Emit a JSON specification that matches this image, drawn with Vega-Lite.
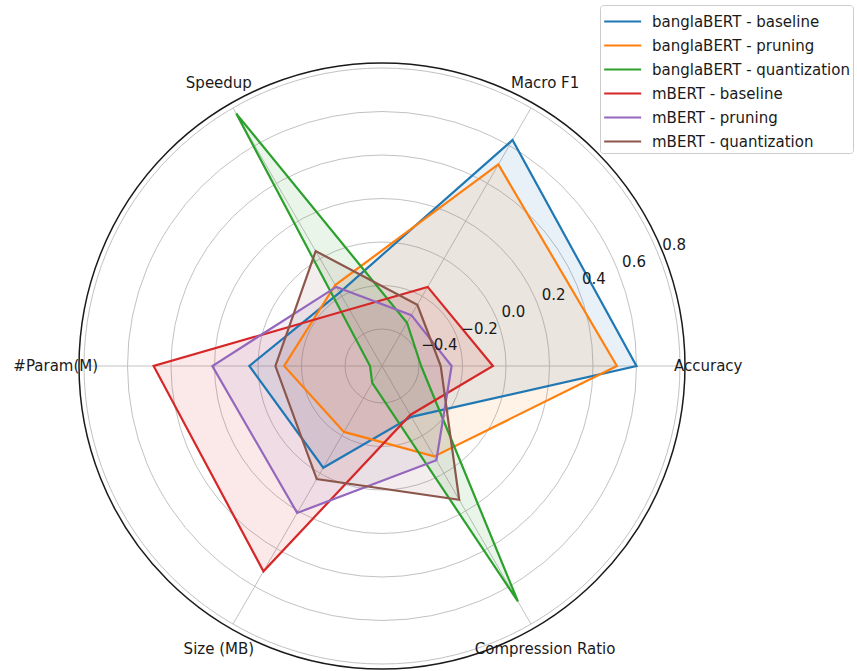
{
  "$schema": "https://vega.github.io/schema/vega-lite/v6.json",
  "width": 857,
  "height": 671,
  "autosize": {"type": "none"},
  "padding": 0,
  "background": "white",
  "config": {"view": {"stroke": null}},
  "datasets": {
    "scores": [
      {"model": "banglaBERT - baseline", "metric": "Accuracy", "value": 0.60},
      {"model": "banglaBERT - baseline", "metric": "Macro F1", "value": 0.63},
      {"model": "banglaBERT - baseline", "metric": "Speedup", "value": -0.18},
      {"model": "banglaBERT - baseline", "metric": "#Param(M)", "value": 0.04},
      {"model": "banglaBERT - baseline", "metric": "Size (MB)", "value": -0.03},
      {"model": "banglaBERT - baseline", "metric": "Compression Ratio", "value": -0.30},
      {"model": "banglaBERT - pruning", "metric": "Accuracy", "value": 0.51},
      {"model": "banglaBERT - pruning", "metric": "Macro F1", "value": 0.50},
      {"model": "banglaBERT - pruning", "metric": "Speedup", "value": -0.14},
      {"model": "banglaBERT - pruning", "metric": "#Param(M)", "value": -0.12},
      {"model": "banglaBERT - pruning", "metric": "Size (MB)", "value": -0.22},
      {"model": "banglaBERT - pruning", "metric": "Compression Ratio", "value": -0.09},
      {"model": "banglaBERT - quantization", "metric": "Accuracy", "value": -0.39},
      {"model": "banglaBERT - quantization", "metric": "Macro F1", "value": -0.34},
      {"model": "banglaBERT - quantization", "metric": "Speedup", "value": 0.77},
      {"model": "banglaBERT - quantization", "metric": "#Param(M)", "value": -0.515},
      {"model": "banglaBERT - quantization", "metric": "Size (MB)", "value": -0.48},
      {"model": "banglaBERT - quantization", "metric": "Compression Ratio", "value": 0.68},
      {"model": "mBERT - baseline", "metric": "Accuracy", "value": -0.06},
      {"model": "mBERT - baseline", "metric": "Macro F1", "value": -0.15},
      {"model": "mBERT - baseline", "metric": "Speedup", "value": -0.27},
      {"model": "mBERT - baseline", "metric": "#Param(M)", "value": 0.48},
      {"model": "mBERT - baseline", "metric": "Size (MB)", "value": 0.52},
      {"model": "mBERT - baseline", "metric": "Compression Ratio", "value": -0.31},
      {"model": "mBERT - pruning", "metric": "Accuracy", "value": -0.25},
      {"model": "mBERT - pruning", "metric": "Macro F1", "value": -0.30},
      {"model": "mBERT - pruning", "metric": "Speedup", "value": -0.15},
      {"model": "mBERT - pruning", "metric": "#Param(M)", "value": 0.21},
      {"model": "mBERT - pruning", "metric": "Size (MB)", "value": 0.21},
      {"model": "mBERT - pruning", "metric": "Compression Ratio", "value": -0.07},
      {"model": "mBERT - quantization", "metric": "Accuracy", "value": -0.30},
      {"model": "mBERT - quantization", "metric": "Macro F1", "value": -0.245},
      {"model": "mBERT - quantization", "metric": "Speedup", "value": 0.04},
      {"model": "mBERT - quantization", "metric": "#Param(M)", "value": -0.08},
      {"model": "mBERT - quantization", "metric": "Size (MB)", "value": 0.03},
      {"model": "mBERT - quantization", "metric": "Compression Ratio", "value": 0.14}
    ],
    "ticks": [
      {"v": -0.4, "label": "−0.4"},
      {"v": -0.2, "label": "−0.2"},
      {"v": 0.0, "label": "0.0"},
      {"v": 0.2, "label": "0.2"},
      {"v": 0.4, "label": "0.4"},
      {"v": 0.6, "label": "0.6"},
      {"v": 0.8, "label": "0.8"},
      {"v": 0.823, "label": ""}
    ],
    "axes": [
      {"metric": "Accuracy"},
      {"metric": "Macro F1"},
      {"metric": "Speedup"},
      {"metric": "#Param(M)"},
      {"metric": "Size (MB)"},
      {"metric": "Compression Ratio"}
    ]
  },
  "layer": [
    {
      "data": {"name": "ticks"},
      "transform": [{"filter": "datum.v <= 0.81"}, {"calculate": "datum.v + 0.57", "as": "r"}],
      "mark": {"type": "point", "shape": "circle", "filled": false, "stroke": "#c2c2c2", "strokeWidth": 1, "opacity": 1},
      "encoding": {
        "x": {"datum": 0, "type": "quantitative", "scale": {"domain": [-1.7563, 2.1839], "nice": false, "zero": false}, "axis": null},
        "y": {"datum": 0, "type": "quantitative", "scale": {"domain": [-1.4023, 1.6828], "nice": false, "zero": false}, "axis": null},
        "size": {"field": "r", "type": "quantitative", "legend": null, "scale": {"type": "pow", "exponent": 2, "domain": [0, 1.393], "range": [0, 367236], "zero": true, "nice": false}}
      }
    },
    {
      "data": {"name": "ticks"},
      "transform": [{"filter": "datum.v > 0.81"}, {"calculate": "datum.v + 0.57", "as": "r"}],
      "mark": {"type": "point", "shape": "circle", "filled": false, "stroke": "#1a1a1a", "strokeWidth": 1.5, "opacity": 1},
      "encoding": {
        "x": {"datum": 0, "type": "quantitative"},
        "y": {"datum": 0, "type": "quantitative"},
        "size": {"field": "r", "type": "quantitative", "legend": null}
      }
    },
    {
      "data": {"name": "axes"},
      "transform": [
        {"calculate": "indexof(['Accuracy','Macro F1','Speedup','#Param(M)','Size (MB)','Compression Ratio'], datum.metric)", "as": "idx"},
        {"calculate": "1.37 * cos(datum.idx * PI / 3)", "as": "ex"},
        {"calculate": "1.37 * sin(datum.idx * PI / 3)", "as": "ey"}
      ],
      "mark": {"type": "rule", "stroke": "#c2c2c2", "strokeWidth": 1},
      "encoding": {
        "x": {"field": "ex", "type": "quantitative"},
        "y": {"field": "ey", "type": "quantitative"},
        "x2": {"datum": 0},
        "y2": {"datum": 0}
      }
    },
    {
      "data": {"name": "axes"},
      "transform": [
        {"calculate": "indexof(['Accuracy','Macro F1','Speedup','#Param(M)','Size (MB)','Compression Ratio'], datum.metric)", "as": "idx"},
        {"calculate": "1.5 * cos(datum.idx * PI / 3)", "as": "lx"},
        {"calculate": "1.5 * sin(datum.idx * PI / 3)", "as": "ly"}
      ],
      "mark": {"type": "text", "font": "DejaVu Sans", "fontSize": 15, "color": "#1a1a1a", "align": "center", "baseline": "middle"},
      "encoding": {
        "x": {"field": "lx", "type": "quantitative"},
        "y": {"field": "ly", "type": "quantitative"},
        "text": {"field": "metric"}
      }
    },
    {
      "data": {"name": "scores"},
      "transform": [
        {"calculate": "indexof(['Accuracy','Macro F1','Speedup','#Param(M)','Size (MB)','Compression Ratio'], datum.metric)", "as": "idx"},
        {"calculate": "(datum.value + 0.57) * cos(datum.idx * PI / 3)", "as": "px"},
        {"calculate": "(datum.value + 0.57) * sin(datum.idx * PI / 3)", "as": "py"},
        {"calculate": "datum.model", "as": "series"}
      ],
      "mark": {"type": "line", "interpolate": "linear-closed", "filled": true, "fillOpacity": 0.1},
      "encoding": {
        "x": {"field": "px", "type": "quantitative"},
        "y": {"field": "py", "type": "quantitative"},
        "order": {"field": "idx", "type": "quantitative"},
        "fill": {"field": "series", "type": "nominal", "legend": null,
          "scale": {"range": ["#1f77b4", "#ff7f0e", "#2ca02c", "#d62728", "#9467bd", "#8c564b"]}}
      }
    },
    {
      "data": {"name": "scores"},
      "transform": [
        {"calculate": "indexof(['Accuracy','Macro F1','Speedup','#Param(M)','Size (MB)','Compression Ratio'], datum.metric)", "as": "idx"},
        {"calculate": "(datum.value + 0.57) * cos(datum.idx * PI / 3)", "as": "px"},
        {"calculate": "(datum.value + 0.57) * sin(datum.idx * PI / 3)", "as": "py"}
      ],
      "mark": {"type": "line", "interpolate": "linear-closed", "strokeWidth": 2.2},
      "encoding": {
        "x": {"field": "px", "type": "quantitative"},
        "y": {"field": "py", "type": "quantitative"},
        "order": {"field": "idx", "type": "quantitative"},
        "color": {"field": "model", "type": "nominal",
          "scale": {"domain": ["banglaBERT - baseline", "banglaBERT - pruning", "banglaBERT - quantization", "mBERT - baseline", "mBERT - pruning", "mBERT - quantization"],
                    "range": ["#1f77b4", "#ff7f0e", "#2ca02c", "#d62728", "#9467bd", "#8c564b"]},
          "legend": {"orient": "none", "legendX": 600, "legendY": 5, "title": null,
                     "symbolType": "M-1,0L2,0", "symbolSize": 608, "symbolStrokeWidth": 2,
                     "labelOffset": 22, "rowPadding": 2, "padding": 3,
                     "strokeColor": "#cccccc", "fillColor": "white", "cornerRadius": 3,
                     "labelFont": "DejaVu Sans", "labelFontSize": 15, "labelLimit": 400, "labelColor": "#1a1a1a"}}
      }
    },
    {
      "data": {"name": "ticks"},
      "transform": [
        {"filter": "datum.v <= 0.81"},
        {"calculate": "(datum.v + 0.57) * cos(PI / 8)", "as": "tx"},
        {"calculate": "(datum.v + 0.57) * sin(PI / 8)", "as": "ty"}
      ],
      "mark": {"type": "text", "font": "DejaVu Sans", "fontSize": 15, "color": "#1a1a1a", "align": "left", "baseline": "alphabetic", "dx": 5, "dy": -1.5},
      "encoding": {
        "x": {"field": "tx", "type": "quantitative"},
        "y": {"field": "ty", "type": "quantitative"},
        "text": {"field": "label"}
      }
    }
  ]
}
